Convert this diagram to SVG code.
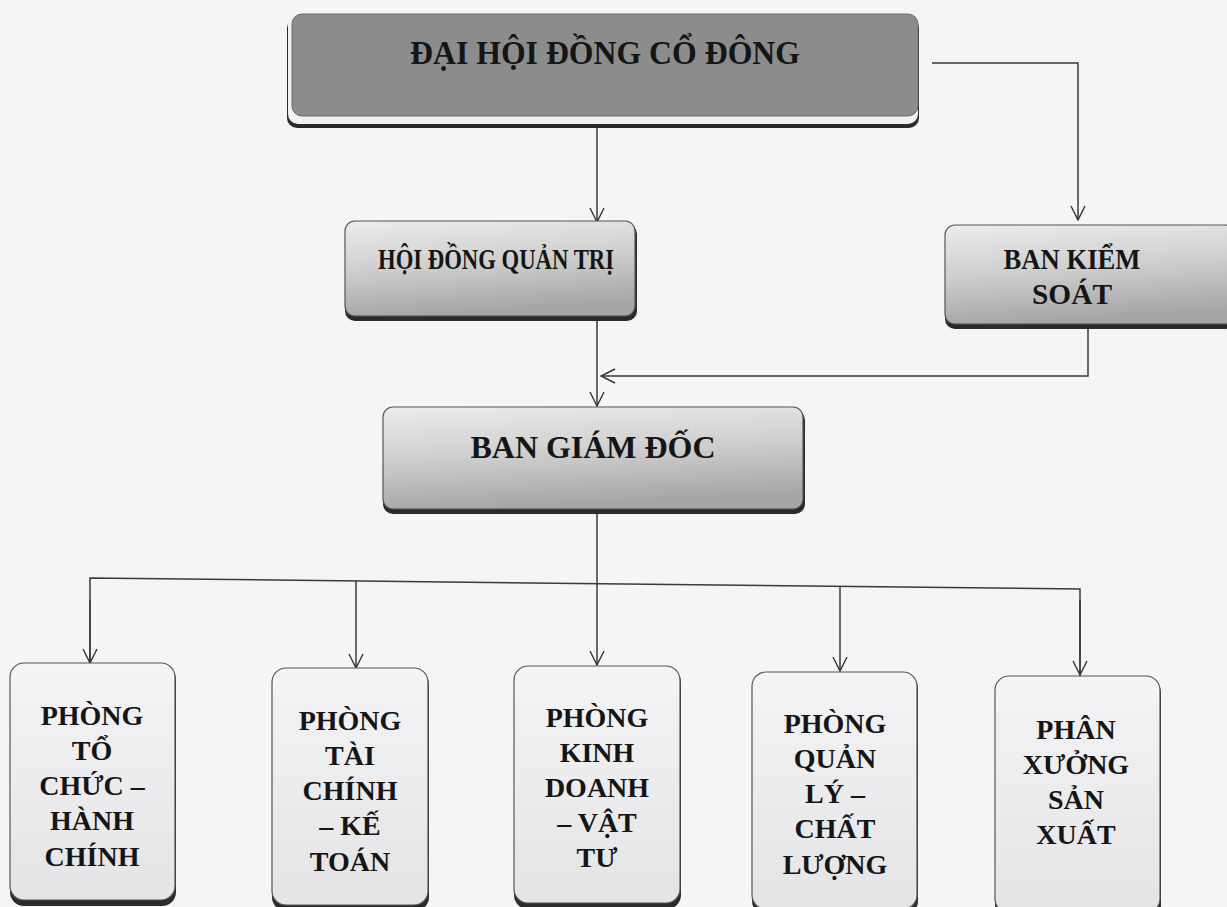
<svg xmlns="http://www.w3.org/2000/svg" width="1227" height="907" viewBox="0 0 1227 907">
<defs>
<linearGradient id="gMid" x1="0" y1="0" x2="0.2" y2="1">
<stop offset="0" stop-color="#ececec"/>
<stop offset="0.5" stop-color="#cfcfcf"/>
<stop offset="1" stop-color="#a6a6a6"/>
</linearGradient>
<linearGradient id="gLow" x1="0" y1="0" x2="0" y2="1">
<stop offset="0" stop-color="#f4f4f6"/>
<stop offset="1" stop-color="#e4e4e6"/>
</linearGradient>
<marker id="arr" viewBox="0 0 16 16" refX="15" refY="8" markerWidth="16" markerHeight="16" markerUnits="userSpaceOnUse" orient="auto">
<path d="M1,1 L15,8 L1,15" fill="none" stroke="#333" stroke-width="1.4"/>
</marker>
</defs>
<style>
.t{font-family:"Liberation Serif","Times New Roman",serif;font-weight:bold;fill:#151515;text-anchor:middle}
.c{fill:none;stroke:#3a3a3a;stroke-width:1.5}
.sh{fill:#2b2b2b}
.bx{stroke:#555;stroke-width:1.2}
</style>
<rect width="1227" height="907" fill="#f5f5f3"/>
<g id="connectors">
<path class="c" d="M597,127 V222" marker-end="url(#arr)"/>
<path class="c" d="M932,63 H1078 V220" marker-end="url(#arr)"/>
<path class="c" d="M597,320 V406" marker-end="url(#arr)"/>
<path class="c" d="M1088,328 V376 H601" marker-end="url(#arr)"/>
<path class="c" d="M597,514 V583"/>
<path class="c" d="M90,663 V578 L1080,589 V676"/>
<path class="c" d="M90,600 V663" marker-end="url(#arr)"/>
<path class="c" d="M356,581 V668" marker-end="url(#arr)"/>
<path class="c" d="M597,583 V665" marker-end="url(#arr)"/>
<path class="c" d="M840,586 V671" marker-end="url(#arr)"/>
<path class="c" d="M1080,600 V675" marker-end="url(#arr)"/>
</g>
<g id="dhdcd">
<rect class="sh" x="287" y="18" width="632" height="110" rx="10"/>
<rect x="288" y="14" width="630" height="110" rx="10" fill="#f2f2f2"/>
<rect x="292" y="14" width="626" height="102" rx="10" fill="#8c8c8c" stroke="#6a6a6a" stroke-width="1"/>
<text class="t" x="605" y="64" font-size="33" textLength="390" lengthAdjust="spacingAndGlyphs">ĐẠI HỘI ĐỒNG CỔ ĐÔNG</text>
</g>
<g id="hdqt">
<rect class="sh" x="345" y="224" width="292" height="97" rx="10"/>
<rect class="bx" x="345" y="221" width="290" height="95" rx="10" fill="url(#gMid)"/>
<text class="t" x="496" y="269" font-size="30" textLength="236" lengthAdjust="spacingAndGlyphs">HỘI ĐỒNG QUẢN TRỊ</text>
</g>
<g id="bks">
<rect class="sh" x="945" y="228" width="290" height="101" rx="10"/>
<rect class="bx" x="945" y="225" width="290" height="99" rx="10" fill="url(#gMid)"/>
<text class="t" x="1072" y="269" font-size="29" textLength="137" lengthAdjust="spacingAndGlyphs">BAN KIỂM</text>
<text class="t" x="1072" y="304" font-size="29" textLength="80" lengthAdjust="spacingAndGlyphs">SOÁT</text>
</g>
<g id="bgd">
<rect class="sh" x="383" y="410" width="422" height="104" rx="10"/>
<rect class="bx" x="383" y="407" width="420" height="102" rx="10" fill="url(#gMid)"/>
<text class="t" x="593" y="458" font-size="31" textLength="245" lengthAdjust="spacingAndGlyphs">BAN GIÁM ĐỐC</text>
</g>
<g id="p1">
<rect class="sh" x="10" y="666" width="166" height="240" rx="14"/>
<rect class="bx" x="10" y="663" width="165" height="237" rx="14" fill="url(#gLow)"/>
<text class="t" font-size="28" x="92"><tspan x="92" y="725">PHÒNG</tspan><tspan x="92" y="760">TỔ</tspan><tspan x="92" y="795">CHỨC –</tspan><tspan x="92" y="830">HÀNH</tspan><tspan x="92" y="866">CHÍNH</tspan></text>
</g>
<g id="p2">
<rect class="sh" x="272" y="671" width="157" height="240" rx="14"/>
<rect class="bx" x="272" y="668" width="156" height="237" rx="14" fill="url(#gLow)"/>
<text class="t" font-size="28" x="350"><tspan x="350" y="730">PHÒNG</tspan><tspan x="350" y="765">TÀI</tspan><tspan x="350" y="800">CHÍNH</tspan><tspan x="350" y="835">– KẾ</tspan><tspan x="350" y="871">TOÁN</tspan></text>
</g>
<g id="p3">
<rect class="sh" x="514" y="669" width="167" height="240" rx="14"/>
<rect class="bx" x="514" y="666" width="166" height="237" rx="14" fill="url(#gLow)"/>
<text class="t" font-size="28" x="597"><tspan x="597" y="727">PHÒNG</tspan><tspan x="597" y="762">KINH</tspan><tspan x="597" y="797">DOANH</tspan><tspan x="597" y="832">– VẬT</tspan><tspan x="597" y="867">TƯ</tspan></text>
</g>
<g id="p4">
<rect class="sh" x="752" y="675" width="166" height="240" rx="14"/>
<rect class="bx" x="752" y="672" width="165" height="237" rx="14" fill="url(#gLow)"/>
<text class="t" font-size="28" x="835"><tspan x="835" y="733">PHÒNG</tspan><tspan x="835" y="768">QUẢN</tspan><tspan x="835" y="803">LÝ –</tspan><tspan x="835" y="838">CHẤT</tspan><tspan x="835" y="874">LƯỢNG</tspan></text>
</g>
<g id="p5">
<rect class="sh" x="995" y="679" width="166" height="240" rx="14"/>
<rect class="bx" x="995" y="676" width="165" height="237" rx="14" fill="url(#gLow)"/>
<text class="t" font-size="28" x="1076"><tspan x="1076" y="739">PHÂN</tspan><tspan x="1076" y="774">XƯỞNG</tspan><tspan x="1076" y="809">SẢN</tspan><tspan x="1076" y="844">XUẤT</tspan></text>
</g>
</svg>
